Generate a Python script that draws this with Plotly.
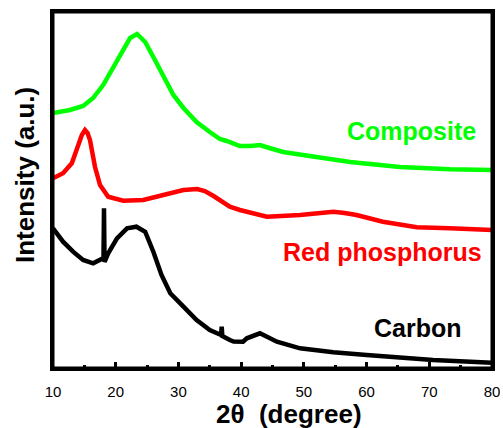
import plotly.graph_objects as go

# 2-theta positions (degree) and intensities (a.u.)
composite_x = [10, 12.7, 14.8, 16.4, 18.0, 19.6, 21.0, 22.3, 23.4, 24.7, 26.0, 27.6, 29.2,
               30.8, 32.9, 35.0, 36.6, 37.7, 39.8, 41.5, 43.0, 44.5, 46.7, 52, 57.4, 65.3,
               73.3, 80]
composite_y = [255, 258, 262, 270, 283, 300, 316, 330, 334, 326, 311, 291, 273,
               260, 246, 236, 229, 227, 222, 222, 223, 220, 216, 211, 206, 201,
               198.7, 198]

red_x = [10, 11.6, 13.0, 14.0, 14.6, 15.1, 15.5, 15.9, 16.7, 17.5, 18.8, 21.2, 24.4,
         27.6, 30.8, 33.0, 34.2, 35.6, 36.6, 38.2, 39.8, 40.9, 44.1, 49.4, 54.7, 56.5,
         58.4, 62.6, 68, 73.3, 80]
red_y = [189.7, 194.7, 204.7, 223, 233, 238, 235, 228, 201, 183, 171.3, 167.3, 168,
         173, 178, 179, 177, 172, 168, 161.3, 158, 156.3, 151.3, 153, 156.3, 155,
         153, 146.3, 140.7, 139.7, 138]

carbon_x = [10, 11.6, 13.2, 14.8, 16.4, 17.5, 18.05, 18.13, 18.22, 18.8, 20.2, 21.8,
            23.3, 24.7, 26.0, 27.3, 28.7, 30.8, 32.9, 35.0, 36.8, 36.9, 37.0, 38.2,
            38.8, 40.3, 40.9, 43.0, 45.7, 49.4, 54.7, 60, 65.3, 70.6, 80]
carbon_y = [139.7, 126.3, 116.3, 108, 104.7, 108, 110, 159.7, 106, 114.7, 129.7, 139.7,
            141.3, 136.3, 116.3, 93, 74.7, 61.3, 48, 38, 33, 41.3, 32, 28,
            26.5, 26.3, 29.7, 34.7, 26.3, 19.7, 15.7, 13, 10.7, 8, 5.3]

x_ticks = [10, 20, 30, 40, 50, 60, 70, 80]
labels = ["Composite", "Red phosphorus", "Carbon"]
colors = ["#00ff00", "#ff0000", "#000000"]

FONT = "Liberation Sans, Arial, sans-serif"
W, H = 503, 428
pl, pr, pt, pb = 53, 11, 12, 60
pw, ph = W - pl - pr, H - pt - pb

fig = go.Figure()
for xs, ys, c, name in [(carbon_x, carbon_y, colors[2], labels[2]),
                        (red_x, red_y, colors[1], labels[1]),
                        (composite_x, composite_y, colors[0], labels[0])]:
    fig.add_trace(go.Scatter(x=xs, y=ys, mode="lines", name=name,
                             line=dict(color=c, width=4.5), showlegend=False))

# series labels
fig.add_annotation(x=67.2, y=237, xref="x", yref="y", text="<b>Composite</b>",
                   xanchor="center", yanchor="middle",
                   showarrow=False, font=dict(family=FONT, size=25, color=colors[0]))
fig.add_annotation(x=62.6, y=116, xref="x", yref="y", text="<b>Red phosphorus</b>",
                   xanchor="center", yanchor="middle",
                   showarrow=False, font=dict(family=FONT, size=25, color=colors[1]))
fig.add_annotation(x=68.2, y=40, xref="x", yref="y", text="<b>Carbon</b>",
                   xanchor="center", yanchor="middle",
                   showarrow=False, font=dict(family=FONT, size=25, color=colors[2]))

# axis titles
fig.add_annotation(x=(289 - pl) / pw, y=(H - pb - 414) / ph, xref="paper", yref="paper",
                   xanchor="center", yanchor="middle",
                   text="<b>2θ  (degree)</b>", showarrow=False,
                   font=dict(family=FONT, size=26, color="black"))
fig.add_annotation(x=(25 - pl) / pw, y=(H - pb - 175) / ph, xref="paper", yref="paper",
                   xanchor="center", yanchor="middle",
                   text="<b>Intensity (a.u.)</b>", showarrow=False, textangle=-90,
                   font=dict(family=FONT, size=26, color="black"))

# plot frame
fig.add_shape(type="rect", xref="paper", yref="paper", x0=0, x1=1, y0=0, y1=1,
              line=dict(color="black", width=3), fillcolor="rgba(0,0,0,0)", layer="above")

fig.update_layout(
    template="none",
    width=W, height=H, autosize=False,
    margin=dict(l=pl, r=pr, t=pt, b=pb, autoexpand=False),
    paper_bgcolor="white", plot_bgcolor="white",
    font=dict(family=FONT, color="black"),
)

fig.update_xaxes(range=[10, 80], tickvals=x_ticks, ticks="inside", ticklen=6, tickwidth=3,
                 tickcolor="black", showline=True, linewidth=3, linecolor="black",
                 mirror=True, showgrid=False, zeroline=False, automargin=False,
                 ticklabelstandoff=8,
                 tickfont=dict(family=FONT, size=15, color="black"),
                 tickprefix="<b>", ticksuffix="</b>",
                 minor=dict(dtick=5, tick0=0, ticks="inside", ticklen=3, tickwidth=3,
                            tickcolor="black", showgrid=False))
fig.update_yaxes(range=[0, 356], showticklabels=False, ticks="", showline=True,
                 linewidth=3, linecolor="black", mirror=True, showgrid=False,
                 zeroline=False, automargin=False)

fig.write_html("out.html",
               config={"responsive": False, "displayModeBar": False},
               post_script="document.body.style.margin='0';document.body.style.padding='0';"
                           "document.body.style.overflow='hidden';"
                           "document.documentElement.style.overflow='hidden';")
